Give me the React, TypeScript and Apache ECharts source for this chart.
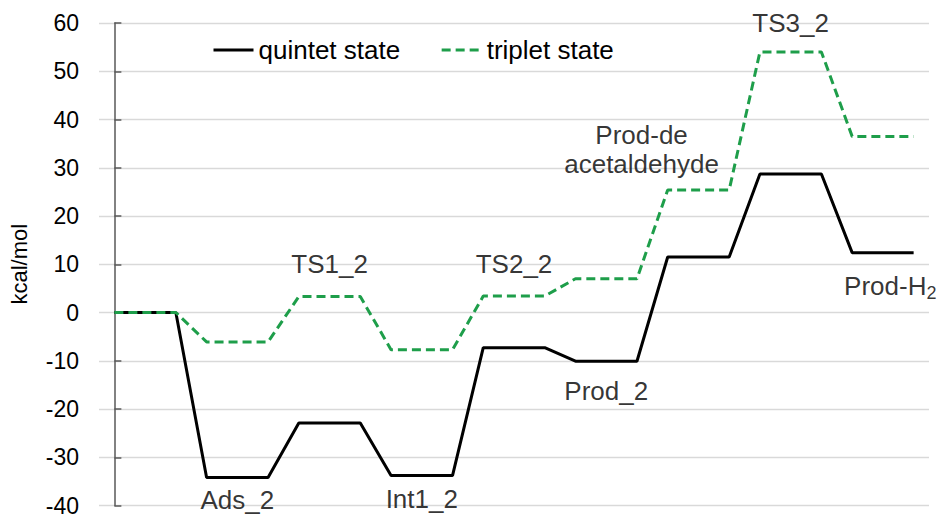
import React, { useEffect, useRef } from "react";
import * as echarts from "echarts";

const states = ["Start", "Ads_2", "TS1_2", "Int1_2", "TS2_2", "Prod_2", "Prod-de", "TS3_2", "Prod-H2"];
const quintet = [0, -34.2, -22.9, -33.8, -7.3, -10.1, 11.5, 28.7, 12.4];
const triplet = [0, -6.1, 3.3, -7.7, 3.4, 7.0, 25.4, 54.0, 36.5];
const yTicks = { min: -40, max: 60, interval: 10 };

// label anchors in data coordinates
const labelX = [7, 13, 22, 17.15, 16, 4, 10, 25.24];
const labelY = [10, 10, 60, 33.7, -16.3, -38.8, -38.6, 5.5];
const labelText = ["TS1_2", "TS2_2", "TS3_2", "Prod-de\nacetaldehyde", "Prod_2", "Ads_2", "Int1_2", "{a|Prod-H}{s|2}"];

const FONT = "'Liberation Sans', Arial, sans-serif";

function steps(vals: number[]) {
  const pts: number[][] = [];
  vals.forEach((v, i) => {
    pts.push([3 * i, v]);
    pts.push([3 * i + 2, v]);
  });
  return pts;
}

export default function App() {
  const ref = useRef<HTMLDivElement>(null);
  useEffect(() => {
    if (!ref.current) return;
    const chart = echarts.init(ref.current, undefined, { renderer: "svg" });
    chart.setOption({
      animation: false,
      backgroundColor: "#ffffff",
      textStyle: { fontFamily: FONT },
      grid: { left: 91, right: 13, top: 23, bottom: 9, containLabel: false },
      legend: {
        data: ["quintet state", "triplet state"],
        left: 207,
        top: 32,
        itemWidth: 40,
        itemHeight: 14,
        itemGap: 40,
        itemStyle: { opacity: 0 },
        lineStyle: { width: 3 },
        textStyle: { fontSize: 26, color: "#000", fontFamily: FONT },
      },
      xAxis: {
        type: "value",
        min: -0.5,
        max: 26.5,
        show: false,
      },
      yAxis: {
        type: "value",
        min: yTicks.min,
        max: yTicks.max,
        interval: yTicks.interval,
        name: "kcal/mol",
        nameLocation: "middle",
        nameGap: 69,
        nameRotate: 90,
        nameTextStyle: { fontSize: 22, color: "#000", fontFamily: FONT },
        axisLine: { show: true, lineStyle: { color: "#595959", width: 1.5 } },
        axisTick: { show: true, inside: true, length: 7, lineStyle: { color: "#595959", width: 1.5 } },
        axisLabel: { fontSize: 23, color: "#000", margin: 20, fontFamily: FONT },
        splitLine: { show: true, lineStyle: { color: "#d9d9d9", width: 1.3 } },
      },
      series: [
        {
          name: "quintet state",
          type: "line",
          data: steps(quintet),
          symbol: "none",
          lineStyle: { color: "#000000", width: 3 },
          itemStyle: { color: "#000000" },
          z: 3,
        },
        {
          name: "triplet state",
          type: "line",
          data: steps(triplet),
          symbol: "none",
          lineStyle: { color: "#1e9e4a", width: 3, type: [9, 5] },
          itemStyle: { color: "#1e9e4a" },
          z: 4,
        },
        {
          name: "labels",
          type: "scatter",
          silent: true,
          symbolSize: 0,
          data: labelX.map((x, i) => ({ value: [x, labelY[i]], name: labelText[i] })),
          label: {
            show: true,
            position: "inside",
            formatter: (p: any) => p.name,
            fontSize: 26,
            lineHeight: 29,
            color: "#000",
            fontFamily: FONT,
            rich: {
              a: { fontSize: 26, color: "#000", fontFamily: FONT },
              s: { fontSize: 18, color: "#000", fontFamily: FONT, padding: [15, 0, 0, 0] },
            },
          },
          z: 5,
        },
      ],
    });
    return () => chart.dispose();
  }, []);
  return (
    <div
      ref={ref}
      style={{ position: "fixed", left: 0, top: 0, width: 942, height: 517 }}
    />
  );
}
